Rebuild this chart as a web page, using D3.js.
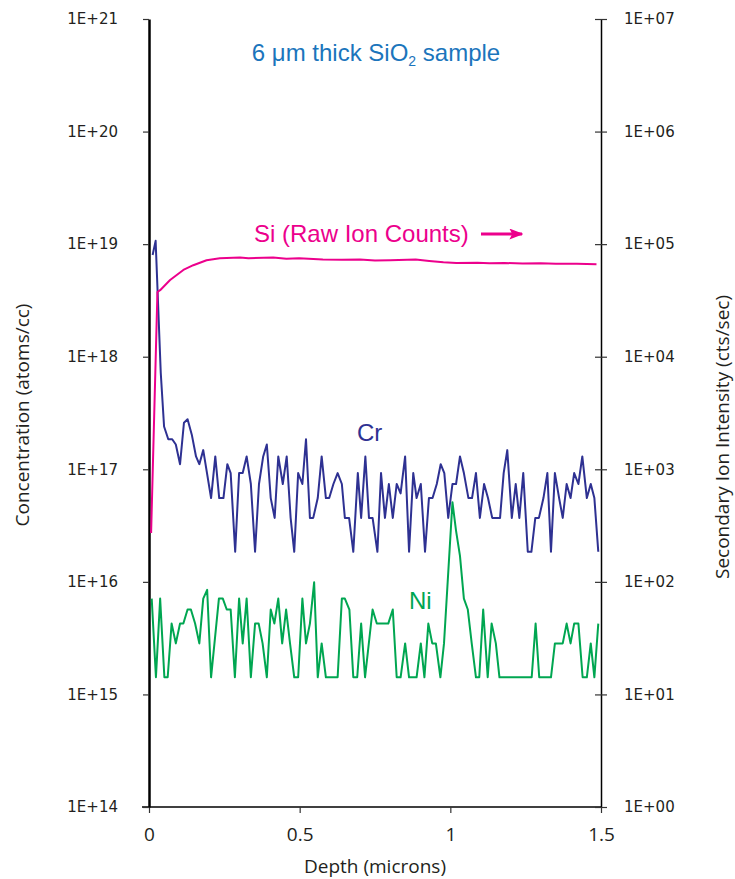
<!DOCTYPE html>
<html>
<head>
<meta charset="utf-8">
<script src="https://cdn.jsdelivr.net/npm/d3@7"></script>
<style>
  body { margin: 0; background: #fff; }
  svg { display: block; }
  .tick-num { font-family: "DejaVu Sans", sans-serif; font-size: 15px; fill: #231f20; }
  .axis-title { font-family: "Open Sans", sans-serif; font-size: 19px; fill: #231f20; }
  .note { font-family: "Liberation Sans", Arial, sans-serif; font-size: 24px; }
</style>
</head>
<body>
<div id="chart"></div>
<script>
// Cr profile [depth (microns), concentration (atoms/cc)]
const crData = [
  [0.012, 8.0e18], [0.022, 1.07e19], [0.039, 7.2e17], [0.050, 2.4e17], [0.064, 1.85e17],
  [0.077, 1.85e17], [0.089, 1.66e17], [0.103, 1.11e17], [0.116, 2.59e17], [0.128, 2.78e17],
  [0.142, 2.03e17], [0.156, 1.3e17], [0.167, 1.11e17], [0.180, 1.48e17], [0.206, 5.55e16],
  [0.220, 1.3e17], [0.233, 5.55e16], [0.247, 5.55e16], [0.260, 1.11e17], [0.271, 9.25e16],
  [0.286, 1.85e16], [0.299, 9.25e16], [0.311, 9.25e16], [0.324, 1.3e17], [0.338, 7.4e16],
  [0.352, 1.85e16], [0.365, 7.4e16], [0.379, 1.3e17], [0.391, 1.66e17], [0.404, 5.55e16],
  [0.417, 3.7e16], [0.429, 1.3e17], [0.444, 7.4e16], [0.457, 1.3e17], [0.470, 3.7e16],
  [0.482, 1.85e16], [0.495, 9.25e16], [0.509, 7.4e16], [0.521, 1.85e17], [0.534, 3.7e16],
  [0.545, 3.7e16], [0.560, 5.55e16], [0.573, 1.3e17], [0.587, 5.55e16], [0.598, 5.55e16],
  [0.612, 7.4e16], [0.626, 9.25e16], [0.640, 7.4e16], [0.650, 3.7e16], [0.664, 3.7e16],
  [0.678, 1.85e16], [0.693, 9.25e16], [0.704, 3.7e16], [0.718, 1.3e17], [0.730, 3.7e16],
  [0.742, 3.7e16], [0.758, 1.85e16], [0.770, 9.25e16], [0.783, 3.7e16], [0.796, 7.4e16],
  [0.809, 3.7e16], [0.822, 7.4e16], [0.835, 6.1e16], [0.850, 1.3e17], [0.863, 1.85e16],
  [0.877, 9.25e16], [0.888, 5.55e16], [0.902, 7.4e16], [0.916, 1.85e16], [0.929, 5.55e16],
  [0.941, 5.55e16], [0.955, 7.4e16], [0.968, 1.11e17], [0.980, 9.25e16], [0.993, 3.7e16],
  [1.007, 7.4e16], [1.019, 7.4e16], [1.032, 1.3e17], [1.045, 9.25e16], [1.060, 5.55e16],
  [1.072, 5.55e16], [1.085, 9.25e16], [1.098, 3.7e16], [1.112, 7.4e16], [1.125, 5.55e16],
  [1.139, 3.7e16], [1.152, 3.7e16], [1.165, 3.7e16], [1.177, 9.25e16], [1.189, 1.48e17],
  [1.204, 3.7e16], [1.217, 7.4e16], [1.229, 3.7e16], [1.242, 9.25e16], [1.257, 1.85e16],
  [1.269, 1.85e16], [1.282, 3.7e16], [1.294, 3.7e16], [1.309, 5.55e16], [1.322, 9.25e16],
  [1.334, 1.85e16], [1.347, 9.25e16], [1.361, 5.55e16], [1.373, 3.7e16], [1.386, 7.4e16],
  [1.399, 5.55e16], [1.411, 9.25e16], [1.425, 7.4e16], [1.438, 1.3e17], [1.453, 5.55e16],
  [1.466, 7.4e16], [1.478, 5.55e16], [1.491, 1.85e16]
];

// Ni profile [depth (microns), concentration (atoms/cc)]
const niData = [
  [0.009, 7.1e15], [0.023, 1.42e15], [0.037, 7.1e15], [0.051, 1.42e15], [0.062, 1.42e15],
  [0.075, 4.26e15], [0.089, 2.84e15], [0.103, 4.26e15], [0.114, 4.26e15], [0.128, 5.68e15],
  [0.139, 5.68e15], [0.153, 4.26e15], [0.167, 2.84e15], [0.180, 7.1e15], [0.193, 8.5e15],
  [0.206, 1.42e15], [0.232, 7.1e15], [0.245, 7.1e15], [0.258, 5.68e15], [0.271, 5.68e15],
  [0.285, 1.42e15], [0.299, 7.1e15], [0.311, 2.84e15], [0.324, 7.1e15], [0.338, 1.42e15],
  [0.352, 4.26e15], [0.364, 4.26e15], [0.377, 2.84e15], [0.391, 1.42e15], [0.404, 5.68e15],
  [0.416, 4.26e15], [0.429, 7.1e15], [0.442, 2.84e15], [0.455, 5.68e15], [0.468, 2.84e15],
  [0.482, 1.42e15], [0.495, 1.42e15], [0.509, 7.1e15], [0.521, 2.84e15], [0.534, 4.26e15],
  [0.548, 9.9e15], [0.560, 1.42e15], [0.573, 2.84e15], [0.587, 1.42e15], [0.626, 1.42e15],
  [0.640, 7.1e15], [0.650, 7.1e15], [0.665, 5.68e15], [0.678, 1.42e15], [0.691, 1.42e15],
  [0.704, 4.26e15], [0.717, 1.42e15], [0.742, 5.68e15], [0.756, 4.26e15], [0.794, 4.26e15],
  [0.809, 5.68e15], [0.822, 1.42e15], [0.835, 1.42e15], [0.850, 2.84e15], [0.863, 1.42e15],
  [0.888, 1.42e15], [0.902, 2.84e15], [0.914, 1.42e15], [0.927, 4.26e15], [0.940, 2.84e15],
  [0.952, 2.84e15], [0.967, 1.42e15], [0.979, 2.84e15], [1.007, 5.1e16], [1.019, 2.84e16],
  [1.032, 1.7e16], [1.045, 7.1e15], [1.058, 5.68e15], [1.071, 2.84e15], [1.085, 1.42e15],
  [1.096, 1.42e15], [1.109, 5.68e15], [1.124, 1.42e15], [1.137, 4.26e15], [1.151, 2.84e15],
  [1.163, 1.42e15], [1.270, 1.42e15], [1.283, 4.26e15], [1.295, 1.42e15], [1.334, 1.42e15],
  [1.347, 2.84e15], [1.373, 2.84e15], [1.386, 4.26e15], [1.399, 2.84e15], [1.411, 4.26e15],
  [1.425, 4.26e15], [1.439, 1.42e15], [1.453, 1.42e15], [1.466, 2.84e15], [1.478, 1.42e15],
  [1.491, 4.26e15]
];

// Si raw ion counts [depth (microns), cts/sec] - right axis
const siData = [
  [0.007, 272], [0.028, 3.76e4], [0.037, 3.9e4], [0.070, 4.8e4], [0.114, 5.9e4],
  [0.147, 6.5e4], [0.191, 7.2e4], [0.235, 7.5e4], [0.302, 7.6e4], [0.330, 7.5e4],
  [0.412, 7.6e4], [0.456, 7.4e4], [0.498, 7.5e4], [0.577, 7.3e4], [0.640, 7.25e4],
  [0.700, 7.3e4], [0.750, 7.15e4], [0.800, 7.2e4], [0.885, 7.3e4], [0.930, 7.1e4],
  [0.977, 6.9e4], [1.020, 6.8e4], [1.090, 6.85e4], [1.130, 6.75e4], [1.180, 6.8e4],
  [1.240, 6.72e4], [1.300, 6.78e4], [1.350, 6.7e4], [1.420, 6.68e4], [1.485, 6.62e4]
];

const depthTicks = [0, 0.5, 1, 1.5];
const concTicks = [1e14, 1e15, 1e16, 1e17, 1e18, 1e19, 1e20, 1e21];
const countTicks = [1, 1e1, 1e2, 1e3, 1e4, 1e5, 1e6, 1e7];

const margin = {top: 19, right: 134, bottom: 72, left: 149};
const width = 735 - margin.left - margin.right;
const height = 879 - margin.top - margin.bottom;

const svg = d3.select('#chart').append('svg')
  .attr('width', 735)
  .attr('height', 879);
const g = svg.append('g')
  .attr('transform', `translate(${margin.left},${margin.top})`);

const x = d3.scaleLinear().domain([0, 1.5]).range([0, width]);
const yL = d3.scaleLog().domain([1e14, 1e21]).range([height, 0]);
const yR = d3.scaleLog().domain([1, 1e7]).range([height, 0]);

const expFmt = d => {
  const e = Math.round(Math.log10(d));
  return '1E+' + (e < 10 ? '0' + e : e);
};

// bottom axis
const xAxis = g.append('g')
  .attr('transform', `translate(0,${height})`)
  .call(d3.axisBottom(x).tickValues(depthTicks).tickFormat(d => d).tickSize(6).tickSizeOuter(0).tickPadding(15));
xAxis.select('.domain').attr('stroke', '#000').attr('stroke-width', 1.5).attr('d', `M-7,0H${width + 1}`);
xAxis.selectAll('.tick line').attr('stroke', '#333').attr('stroke-width', 1.2);
xAxis.selectAll('.tick text').attr('class', 'axis-title');

// left axis
const yAxisL = g.append('g')
  .call(d3.axisLeft(yL).tickValues(concTicks).tickFormat(expFmt).tickSize(6).tickSizeOuter(0).tickPadding(25));
yAxisL.select('.domain').attr('stroke', '#000').attr('stroke-width', 2.5);
yAxisL.selectAll('.tick line').attr('stroke', '#333').attr('stroke-width', 1.2);
yAxisL.selectAll('.tick text').attr('class', 'tick-num');

// right axis, ticks cross the line
const yAxisR = g.append('g')
  .attr('transform', `translate(${width},0)`)
  .call(d3.axisRight(yR).tickValues(countTicks).tickFormat(expFmt).tickSize(6).tickSizeOuter(0).tickPadding(17));
yAxisR.select('.domain').attr('stroke', '#000').attr('stroke-width', 1.5);
yAxisR.selectAll('.tick line').attr('x1', -6).attr('stroke', '#333').attr('stroke-width', 1.2);
yAxisR.selectAll('.tick text').attr('class', 'tick-num');

// axis titles
svg.append('text')
  .attr('class', 'axis-title')
  .attr('x', margin.left + width / 2)
  .attr('y', 873)
  .attr('text-anchor', 'middle')
  .text('Depth (microns)');

svg.append('text')
  .attr('class', 'axis-title')
  .attr('transform', 'translate(29,415) rotate(-90)')
  .attr('text-anchor', 'middle')
  .text('Concentration (atoms/cc)');

svg.append('text')
  .attr('class', 'axis-title')
  .attr('transform', 'translate(729,437) rotate(-90)')
  .attr('text-anchor', 'middle')
  .text('Secondary Ion Intensity (cts/sec)');

// profiles
const lineL = d3.line().x(d => x(d[0])).y(d => yL(d[1]));
const lineR = d3.line().x(d => x(d[0])).y(d => yR(d[1]));

g.append('path').datum(niData)
  .attr('fill', 'none').attr('stroke', '#00a651').attr('stroke-width', 2)
  .attr('stroke-linejoin', 'round').attr('d', lineL);
g.append('path').datum(crData)
  .attr('fill', 'none').attr('stroke', '#2e3192').attr('stroke-width', 2)
  .attr('stroke-linejoin', 'round').attr('d', lineL);
g.append('path').datum(siData)
  .attr('fill', 'none').attr('stroke', '#ec008c').attr('stroke-width', 2)
  .attr('stroke-linejoin', 'round').attr('d', lineR);

// annotations
const title = svg.append('text')
  .attr('class', 'note')
  .attr('x', 376).attr('y', 61)
  .attr('text-anchor', 'middle')
  .style('fill', '#1b75bc');
title.append('tspan').text('6 \u03bcm thick SiO');
title.append('tspan').attr('dy', 5).style('font-size', '14px').text('2');
title.append('tspan').attr('dy', -5).text(' sample');

svg.append('text')
  .attr('class', 'note')
  .attr('x', 254).attr('y', 242)
  .style('fill', '#ec008c')
  .text('Si (Raw Ion Counts)');

svg.append('defs').append('marker')
  .attr('id', 'arrow')
  .attr('viewBox', '0 0 10 10')
  .attr('refX', 9).attr('refY', 5)
  .attr('markerWidth', 14).attr('markerHeight', 11)
  .attr('markerUnits', 'userSpaceOnUse')
  .attr('orient', 'auto')
  .attr('preserveAspectRatio', 'none')
  .append('path').attr('d', 'M0,0L10,5L0,10L2,5Z').attr('fill', '#ec008c');

svg.append('line')
  .attr('x1', 481).attr('y1', 234).attr('x2', 522).attr('y2', 234)
  .attr('stroke', '#ec008c').attr('stroke-width', 3)
  .attr('marker-end', 'url(#arrow)');

svg.append('text')
  .attr('class', 'note')
  .attr('x', 357).attr('y', 441)
  .style('fill', '#2e3192')
  .text('Cr');

svg.append('text')
  .attr('class', 'note')
  .attr('x', 409).attr('y', 609)
  .style('fill', '#00a651')
  .text('Ni');
</script>
</body>
</html>
